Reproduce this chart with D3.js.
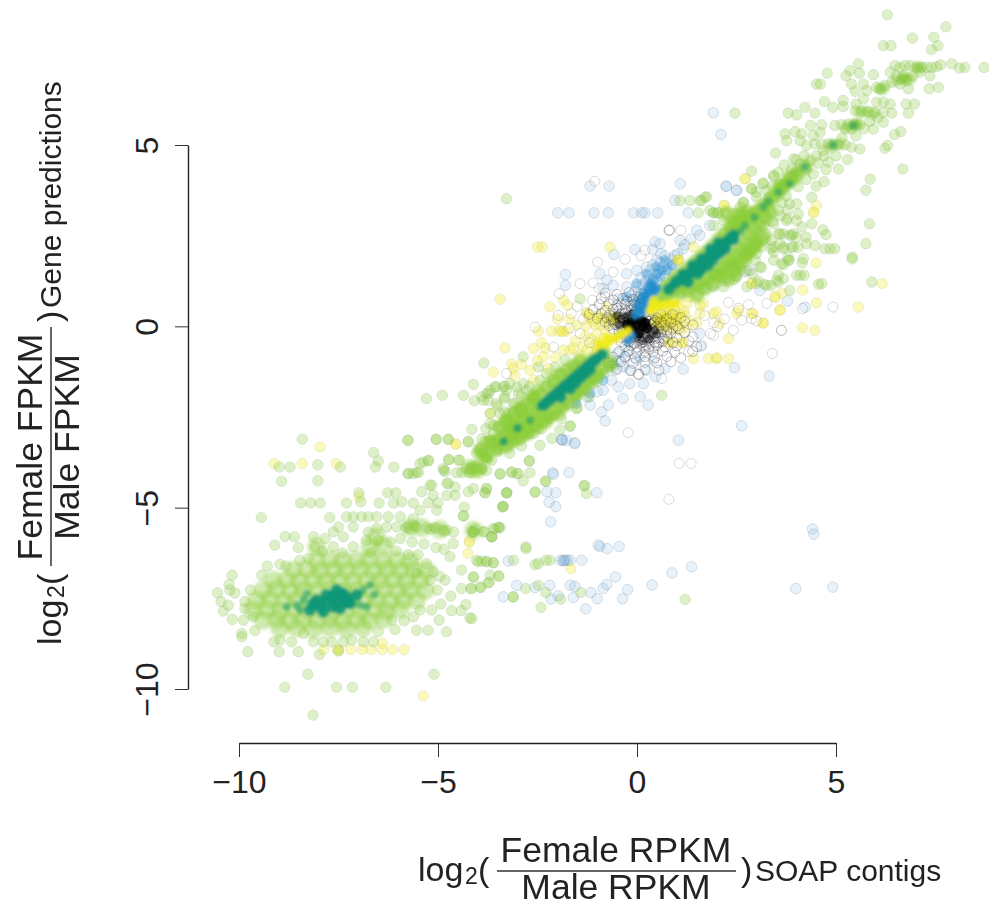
<!DOCTYPE html>
<html>
<head>
<meta charset="utf-8">
<script src="https://cdn.jsdelivr.net/npm/d3@7"></script>
<style>
body { margin: 0; background: #fff; }
text { font-family: "Liberation Sans", Arial, sans-serif; fill: #222; }
</style>
</head>
<body>
<script>
// tick labels of both axes
const xTicks = [-10, -5, 0, 5];
const yTicks = [-10, -5, 0, 5];

// rings with no fill away from the origin
const hollowFar = [
[-1.06,4],[1.1,2.65],[.81,2.65],[.82,2.66],[.8,2.64],[-.99,1.77],[-1.43,1.18],[-1.95,.9],[-1.12,.72],[-.8,.81],[-1.98,.3],[-2.56,-.02],[-2.1,-.57],[-1.43,-.2],[-3.28,-1.3],[3.4,-.75],[3.63,-.11],[-.22,-2.93],[1.06,-3.78],[1.36,-3.78],[.04,-1.32],[.05,-1.33],[.03,-1.31],[.62,-1.44],[4.92,.53],[4.16,.49],[3.63,-.11],[3.26,.63],[2.88,.21],[2.63,.17],[2.42,-.11],[1.92,-.25],[.8,-4.77],
[1.93,.1],[2.03,0],[1.85,-.2],[2.2,.2],[2.55,.5],[2.8,.6],[3.0,.15],[2.3,.66],[1.6,-.55],[1.3,-.7],[1.7,.3],[-1.65,.35],[-1.5,.55],[-1.35,.2],[-1.7,-.05],[-1.2,-.45],[-1.0,-.65],[-.95,1.05],[-.6,1.5],[-.3,1.85],[.1,1.95],[.2,2.1],[-1.1,1.2]
];

// rings with no fill close to the origin
const hollowNear = [
[-.8,.92],[-.5,.88],[-.2,.93],[.1,.9],[-.9,.76],[-.6,.73],[-.35,.77],[-.1,.74],[.15,.76],[.3,.72],
[-.95,.6],[-.7,.62],[-.5,.58],[-.3,.61],[-.1,.59],[.08,.62],[.2,.58],[-1.1,.46],[-.8,.44],[-.6,.47],[-.45,.43],[-.3,.46],[-.15,.44],[0,.47],[.15,.43],
[-1.2,.33],[-.9,.35],[-.7,.31],[-.55,.34],[-.42,.32],[-.3,.35],[-.2,.31],[-.08,.34],[.05,.32],[.18,.35],[.3,.31],[.6,.34],[.9,.32],
[-1,.22],[-.75,.24],[-.6,.2],[-.45,.23],[-.33,.21],[-.22,.24],[-.12,.2],[0,.23],[.1,.21],[.22,.24],[.35,.2],[.5,.23],[.75,.21],[1.1,.24],
[-.8,.12],[-.6,.14],[-.45,.1],[-.32,.13],[-.2,.11],[-.1,.14],[0,.1],[.1,.13],[.2,.11],[.3,.14],[.42,.1],[.6,.13],[.85,.11],[1.2,.14],
[-.7,.02],[-.5,.04],[-.35,0],[-.22,.03],[-.12,.01],[-.03,.04],[.06,0],[.15,.03],[.25,.01],[.35,.04],[.5,0],[.7,.03],[1,.01],[1.4,.04],
[-.6,-.08],[-.4,-.06],[-.25,-.1],[-.15,-.07],[-.05,-.09],[.05,-.06],[.15,-.1],[.25,-.07],[.38,-.09],[.55,-.06],[.75,-.1],[1.05,-.07],
[-.45,-.18],[-.3,-.16],[-.2,-.2],[-.1,-.17],[0,-.19],[.1,-.16],[.2,-.2],[.3,-.17],[.45,-.19],[.6,-.16],[.85,-.2],[1.2,-.17],
[-.4,-.3],[-.28,-.28],[-.15,-.32],[-.05,-.29],[.05,-.31],[.15,-.28],[.28,-.32],[.4,-.29],[.55,-.31],[.75,-.28],[1,-.32],[1.4,-.29],
[-.4,-.42],[-.25,-.4],[-.1,-.44],[.02,-.41],[.15,-.43],[.3,-.4],[.45,-.44],[.65,-.41],[.9,-.43],[1.3,-.4],
[-.3,-.55],[-.15,-.53],[0,-.57],[.15,-.54],[.3,-.56],[.5,-.53],[.7,-.57],[1,-.54],[1.5,-.56],
[-.45,-.7],[-.2,-.68],[0,-.72],[.2,-.69],[.4,-.71],[.65,-.68],[.95,-.72],[1.4,-.69],
[-.6,-.85],[-.3,-.83],[-.05,-.87],[.2,-.84],[.45,-.86],[.75,-.83],[1.1,-.87],[-.7,-1],[-.4,-.98],[-.1,-1.02],[.2,-.99],[.5,-1.01],[.85,-.98],[-.9,-1.2],[-.5,-1.18],[-.15,-1.22],[.2,-1.19],[.55,-1.21],
[-.5,.5],[-.4,.6],[-.25,.7],[-.15,.55],[-.05,.65],[.05,.8],[-.35,.25],[-.27,.4],[-.16,.3],[-.03,.42],[.1,.5],[.25,.4],
[.12,-.45],[.22,-.52],[.3,-.62],[.42,-.55],[.55,-.45],[.68,-.35],[.35,-.25],[.48,-.33],[.6,-.22],[.75,-.15],[.9,-.05],[.4,-.15],
[.1,-.25],[.2,-.3],[.08,-.38],[-.06,-.48],[-.2,-.42],[-.33,-.22],[-.45,-.12],[-.55,.05],[-.65,.18],[-.42,.17],[-.28,.08],[-.18,.18],[-.08,.08],[.02,.16],[.13,.07],[.22,.18],[.33,.06],[.45,.16],[.28,-.13],[.18,-.06],[.08,-.14],[-.02,-.05],[-.12,-.13],[-.22,-.03],[-.35,-.12]
];

// pale blue discs
const bluePoints = [
[-1.18,3.87],[-.7,3.87],[1.09,3.93],[2.24,3.87],[2.5,3.75],[-1.99,3.13],[-1.71,3.13],[-1.08,3.13],[-.72,3.13],[-.09,3.13],[.12,3.13],[.2,3.13],[.52,3.13],[.95,3.47],[1.29,3.13],[1.5,2.65],[1.58,2.51],[1.83,2.78],[.45,2.33],[.58,2.28],[.39,2.12],[-.05,2.12],[-.58,1.98],[1.08,2.37],[1.16,2.14],[-1.8,1.43],[-1.8,1.13],[-.93,1.45],[-.76,1.27],[-.85,1.04],[-.6,1.13],[-.26,1.45],[0,1.54],[.24,1.64],[.49,1.82],[.75,1.73],[.24,1.27],[.49,1.45],[0,1.09],[-.26,1.09],[-.47,.76],
[-.64,-.93],[-.35,-1.12],[-.01,-.93],[.24,-1.21],[.47,-1.39],[.7,-1.16],[1.16,-1.18],[2.45,-1.14],[3.32,-1.37],[2.63,-2.74],[1.04,-3.14],[-.8,-2.61],[-1.57,-3.23],[-1.9,-3.12],[.28,-2.17],[.08,-1.94],[-.35,-1.99],[-.72,-2.17],[-.89,-2.36],[-1.18,-2.17],[-.47,-1.67],[-.18,-1.58],[.16,-1.58],[-.85,-1.76],[-.64,-1.49],[-.18,-1.21],[.08,-.84],[.41,-.93],[1.62,-.52],[1.58,-.2],
[1.92,5.89],[2.11,5.29],[2.24,3.86],[2.5,3.75],[3.78,.7],[4.22,.53],[3.09,.99],[2.84,1.54],
[-1.89,-3.12],[-1.87,-3.14],[-1.56,-3.21],[-1.77,-3.14],[-2.12,-4.04],[-2.1,-4.08],[-1.71,-4.03],[-2.26,-4.56],[-2.04,-4.59],[-2.21,-4.85],[-2.04,-4.97],[-2.17,-5.39],[-1.01,-4.59],[-.97,-6.03],[-.93,-6.07],[-.75,-6.13],[-.45,-6.07],[-3.23,-6.47],[-1.85,-6.45],[-1.75,-6.45],[-1.8,-6.45],[-1.85,-6.47],[-1.68,-6.45],[-1.39,-6.45],[-1.93,-6.45],[-3.02,-7.14],[-3.36,-7.46],[-2.56,-7.2],[-2.19,-7.14],[-1.68,-7.14],[-1.56,-7.17],[-1.98,-7.43],[-2.16,-7.52],[-1.6,-7.48],[-1.16,-7.34],[-1,-7.51],[-1.29,-7.79],[-.85,-7.23],[-.76,-7.12],[-.54,-6.91],[-.24,-7.26],[-.36,-7.51],[.38,-7.13],[.88,-6.8],[1.37,-6.63],[3.99,-7.23],[4.92,-7.19],[4.41,-5.59],[4.44,-5.73],
[.2,.95],[.35,1.05],[.42,1.3],[.3,1.4],[.55,1.55],[.65,1.65],[.7,1.4],[.85,1.85],[.95,1.95],[.6,2.0],[.4,1.7],[.15,1.15],[.1,1.35],[-.05,.95],[-.15,.85],[.05,.75],[.25,.82],[.5,1.25],[.35,1.55],[.58,1.75],[.78,1.55],[.92,1.7],[1.02,2.0],[1.2,2.25],[1.35,2.4],[.7,1.95],[.28,1.1],[.18,.8],[.05,.6],[-.08,.6],
[1.3,.95],[1.6,1.05],[1.9,1.1],[2.2,1.25],[2.5,1.4],[2.7,1.5],
[-.5,-.75],[-.45,-.95],[-.3,-.85],[-.7,-1.1],[-.85,-1.3],[-1.05,-1.45],[-1.2,-1.6],[-1.35,-1.75],[-1.55,-1.95],[-1.6,-2.1],[-.55,-1.2],[-.25,-.7],[-1.0,-1.8],[-1.25,-1.95]
];

// blue that has piled up beside the upper band
const blueMid = [
[-.01,.63],[.16,.9],[.28,1.09],[.41,1.27],[.58,1.36],[.75,1.55],[.24,1.45],[.49,1.64],[-.01,1.18],[-.26,.81],[.7,1.82],[.87,1.68],[.1,.75],[.35,1.2],[.5,1.45],[.62,1.55],
[-.6,-1.03],[-.85,-1.49],[-1.18,-1.85],[-1.52,-2.13]
];

// pale yellow discs
const yellowPoints = [
[-7.96,-3.32],[-9.12,-3.78],[-8.41,-3.78],[-7.56,-3.78],[-6.98,-4.7],[-4.56,-3.24],[-4.55,-3.25],[-4.21,-5.92],[-7.88,-8.91],[-7.5,-8.93],[-7.52,-8.9],[-7.19,-8.91],[-6.9,-8.91],[-6.68,-8.91],[-6.4,-8.91],[-6.14,-8.91],[-5.85,-8.91],[-6.4,-8.74],[-5.37,-10.19],[-4.21,-5.95],[-4.25,-6.26],[-1.66,-6.68],
[2.73,4.07],[2.19,3.33],[4.43,3.15],[4.44,3.13],[4.51,3.33],[6.16,1.18],[5.56,.53],[4.47,-.11],[4.16,-.04],[4.51,.65],[3.59,.46],[4.16,1],[3.17,.09],[4.5,1.75],[2.88,1.18],[3.47,.81],[3.64,.92],[2.55,.44],[1.92,.35],[1.58,.58],[2.92,.35],
[-2.5,2.19],[-2.38,2.19],[-.68,2.19],[-3.44,.75],[-2.19,.54],[-1.85,.72],[-1.75,.58],[-1.27,.38],[-1.25,.36],[-1.98,-.13],[-1.77,-.13],[-1.9,-.13],[-2.15,-.13],[-1.85,-.15],[-2.48,-.13],[-3.32,-.59],[-2.4,-.45],[-2.6,-.61],[-3.61,-1.26],[-3.69,-2.4],[-3.15,-1.03],[-3.11,-1.16],[-3.07,-1.35],[-2.69,-1.21],[-2.35,-.84],[-2.23,-1.16],[-2.6,-1.49],[-1.68,-.66],[-1.43,-.8],[-1.52,.03],[-1.27,.03],[-1.01,-.2],[-.76,.54],[-.51,.26],[-.53,.24],
[.79,-.45],[.81,-.43],[.96,-.45],[1.16,-.45],[1.14,-.45],[1.42,-.89],[1.79,-.89],[1.99,-.89],[2.01,-.87],[2.3,-.89],[1.04,1.82],[1.06,1.82],[1.02,1.84],[1.42,2.19],[2.19,3.34],[2.71,4.07],
[.45,.17],[.62,.26],[.79,.12],[.96,-.02],[.49,.03],[1.25,-.02],[1.08,.35],[1.5,.08],[.83,.54],[1.25,.63],[2,.4],[2.08,.08],[2.5,.35],[2.88,.35],[3.17,.09],[3.59,.44],[3.47,.81],[2.88,1.18],[1.58,.35],[2.3,-.34],[1.33,.81],[1.67,.63],
[.55,.1],[.7,.2],[.9,.22],[.6,.02],[.75,.0],[1.0,.15],[.85,.35],[1.2,.3],[1.35,.15],[1.1,.08],[.5,.24],[.66,.35],[-.9,.05],[-.75,.2],[-.6,.12],[-1.1,.15],[-.85,-.35],[-1.15,-.35],[-1.35,-.55],[-1.55,-.4],[-1.85,-.65],[-2.05,-.85],
[-2.3,-.6],[-2.5,-.95],[-2.9,-1.05],[-2.0,.2],[-1.7,.2],[-.95,.3],
[.42,.08],[.58,.18],[.72,.28],[.88,.1],[.68,.1],[.82,.25],[.98,.3],[1.05,.22],[.55,.32],[.95,.45],[1.18,.42],[.72,.42],[.62,-.06],[.85,-.1],[1.1,-.12],
[-.55,.2],[-.7,.08],[-.65,.28],[-.85,.22],[-1,.28],[-1.2,.25],[-1.05,.05],[-.8,-.1],[-1.3,-.25],[-1.05,-.5],[-1.25,-.65],[-1.6,-.6]
];

// pale green discs
const greenPoints = [
// far lower left
[-8.41,-3.11],[-6.62,-3.48],[-5.75,-3.14],[-5.04,-3.12],[-4.74,-3.12],[-4.24,-3.19],[-8.99,-3.88],[-8.72,-3.88],[-8.02,-3.82],[-7.45,-3.88],[-6.5,-3.71],[-6.57,-3.88],[-6.11,-3.88],[-5.24,-3.71],[-5.45,-3.78],[-4.74,-3.67],[-4.45,-3.69],[-4.85,-3.97],[-5.75,-4.06],[-5.54,-4.03],[-4.4,-4.03],[-4.2,-4.03],[-4.2,-3.92],[-4.07,-3.92],[-3.9,-3.92],[-3.78,-3.97],[-3.44,-4.06],[-3.15,-4.03],[-3.02,-4.06],[-8.93,-4.27],[-8.02,-4.26],
[-5.16,-4.38],[-4.78,-4.33],[-4.57,-4.43],[-4.11,-4.47],[-3.78,-4.47],[-3.82,-4.59],[-3.28,-4.59],[-3.38,-4.98],[-6.99,-4.59],[-6.27,-4.59],[-6.06,-4.59],[-8.45,-4.87],[-8.2,-4.87],[-7.96,-4.87],[-7.3,-4.87],[-6.94,-4.84],[-6.48,-4.87],[-6.12,-4.87],[-5.91,-4.84],[-5.62,-4.87],[-5.41,-4.56],[-5.24,-4.87],[-5.12,-4.66],[-5,-4.87],[-4.78,-4.66],[-4.57,-4.66],[-4.34,-4.98],[-4.36,-5.23],[-5.45,-5.07],[-5.03,-5.07],
[-9.44,-5.27],[-7.72,-5.27],[-7.3,-5.25],[-7.13,-5.25],[-6.92,-5.25],[-6.75,-5.25],[-6.54,-5.25],[-6.25,-5.25],[-5.95,-5.25],[-5.62,-5.3],[-7.5,-5.53],[-7.63,-5.67],[-7.13,-5.53],[-6.75,-5.67],[-6.54,-5.57],[-6.29,-5.53],[-6.04,-5.53],[-5.75,-5.51],[-5.54,-5.53],[-5.28,-5.55],[-5.03,-5.57],[-4.78,-5.62],[-4.61,-5.67],[-4.11,-5.67],[-3.86,-5.67],[-3.61,-5.57],[-3.44,-5.55],[-3.65,-5.8],[-5.8,-5.55],[-5.7,-5.58],[-5.6,-5.5],[-5.2,-5.6],[-5.1,-5.55],[-4.9,-5.6],[-4.85,-5.65],[-4.15,-5.65],
[-10.54,-7.35],[-10.45,-7.59],[-10.39,-7.85],[-10.27,-7.69],[-10.17,-8.08],[-10.23,-7.27],[-10.25,-7.11],[-10.17,-6.86],[-10.1,-7.35],[-9.93,-8.47],[-9.93,-8.56],[-9.89,-8.1],[-9.85,-7.59],[-9.85,-7.78],[-9.71,-7.27],[-9.6,-8.39],[-9.64,-8.01],[-9.43,-6.86],[-9.29,-6.61],[-9.1,-6.03],[-8.84,-5.79],[-8.61,-5.8],[-8.51,-6.1],[-8.13,-5.8],[-8.09,-6.08],[-7.84,-5.85],[-7.63,-6.08],[-7.38,-5.8],[-7.13,-6.08],[-8.47,-6.45],[-8.26,-6.4],[-8.97,-6.56],[-8.82,-6.61],[-9.12,-8.7],[-8.97,-8.65],[-8.68,-8.7],[-8.38,-8.47],[-8.13,-8.7],[-7.88,-8.7],[-7.67,-8.7],[-7.38,-8.7],[-7.17,-8.65],[-6.88,-8.7],[-6.62,-8.7],[-6.5,-8.42],[-6.08,-8.36],[-5.85,-8.12],[-6.16,-8.1],[-5.62,-8.01],
[-9.78,-8.97],[-8.99,-8.97],[-8.51,-8.97],[-7.98,-9.05],[-7.5,-8.95],[-8.27,-9.59],[-5.1,-9.59],[-8.85,-9.95],[-7.55,-9.95],[-7.15,-9.95],[-6.31,-9.95],[-8.14,-10.72],[-5.54,-8.38],[-5.25,-8.38],[-4.79,-8.42],[-4.2,-8.04],[-4.66,-7.84],[-4.42,-7.84],[-4.3,-7.67],[-4.97,-8.1],[-4.93,-7.66],[-5.16,-7.82],[-5.45,-7.82],
[-3.11,-7.46],[-3.71,-7.06],[-3.48,-6.88],[-3.92,-7.2],[-4.18,-7.23],[-4.41,-7.23],[-4.68,-7.44],[-5.02,-7.27],[-4.11,-6.91],[-3.99,-6.49],[-3.78,-6.49],[-3.61,-6.52],[-4.7,-6.35],[-4.41,-6.72],[-4.82,-7],[-5.12,-6.77],[-5.54,-6.81],[-4.95,-6.9],[-5.29,-6.54],[-5.2,-7],
[-6.8,-5.9],[-6.5,-5.9],[-6.2,-5.95],[-5.95,-5.85],[-5.65,-5.95],[-5.35,-6],[-5.05,-6.1],[-4.85,-6.15],[-6.05,-6.2],[-5.75,-6.3],[-5.5,-6.3],[-6.7,-6.25],[-7.9,-6.2],[-7.4,-6.25],
// middle of the lower band
[-3.33,-1.99],[-4.89,-1.9],[-4.36,-1.9],[-4.11,-1.6],[-4.09,-2.05],[-3.73,-1.85],[-3.9,-1.94],[-3.54,-1.67],[-3.32,-1.65],[-3.69,-2.4],[-3.32,-2.36],[-3.07,-2.13],[-1.68,-2.75],[-5.76,-3.14],[-5.05,-3.11],[-4.74,-3.11],[-4.24,-3.17],[-4.15,-2.84],[-3.8,-2.82],[-3.61,-2.73],[-3.69,-3.14],[-5.29,-1.99],
[-4.28,-3.92],[-4.15,-3.9],[-4.03,-3.92],[-3.9,-3.94],[-4.49,-3.69],[-4.72,-3.67],[-5.24,-3.69],[-5.37,-3.74],[-4.87,-3.92],[-4.82,-4],[-4.53,-4.04],[-5.75,-4.06],[-5.49,-4.03],[-5.62,-4.06],[-4.03,-3.5],[-3.78,-3.6],[-3.65,-3.69],[-3.94,-3.37],[-2.7,-3.71],[-3.44,-4.08],[-3.15,-4.01],[-2.98,-4.06],[-2.69,-4.04],[-2.86,-4.26],[-2.3,-4.27],[-2.56,-4.56],[-3.27,-4.59],[-3.78,-4.47],[-3.36,-4.96],[-1.32,-4.38],[-1.27,-4.61],[-4.36,-5.22],[-3.48,-5.54],[-3.65,-5.8],[-4.11,-5.66],[-4.62,-5.99],[-2.79,-6.08],[-5.2,-4.38],[-4.74,-4.33],[-4.24,-4.56],
[-1.33,-4.4],[-2.29,-4.27],[-2.56,-4.58],[-3.27,-4.59],[-3.37,-4.97],[-3.82,-4.59],[-2.79,-6.13],[-3.47,-5.55],[-3.57,-5.59],[-3.65,-5.81],[-3.84,-5.65],[-4.07,-5.58],[-4.11,-5.67],[-3.1,-6.45],[-2.48,-6.54],[-2.56,-6.57],[-2.19,-6.45],[-2.29,-6.45],[-3.78,-6.48],[-4.03,-6.45],[-3.9,-6.47],[-3.61,-6.52],[-4.11,-6.91],[-3.47,-6.89],[-3.69,-6.86],[-3.74,-7.07],[-3.94,-7.19],[-4.15,-7.23],[-3.11,-7.46],[-2.8,-7.23],[-2.48,-7.14],[-2.29,-7.34],[-1.92,-7.52],[-1.41,-7.34],[-2.41,-7.75],[1.21,-7.53],[-4.15,-8.06],
[-3.28,3.52],[-1.43,.76],[-2.86,-.84],[-3.85,-1.01],[.62,-1.9],[-1.68,-2.75],[-2.71,-3.71],[-3.57,-1.67],[-3.36,-1.67],[-3.78,-1.85],[-3.74,-2.04],[-3.28,-1.76],[-3.02,-1.67],[-2.9,-1.9],[-2.7,-1.65],[-2.5,-1.75],[-3.5,-2.2],[-3.1,-2.35],[-2.9,-2.2],[-2.6,-2.95],[-2.3,-2.6],[-2.1,-2.45],[-1.9,-2.55],[-1.5,-2.25],[-1.2,-1.95],[-1,-1.5],[-.7,-1],[-3.9,-3.1],[-3.2,-3.5],[-2.9,-3.3],[-3.5,-3.45],
[-3.86,-2.04],[-3.69,-1.76],[-3.53,-2.13],[-3.32,-1.94],[-3.11,-2.13],[-3.19,-1.58],[-2.98,-1.85],[-2.77,-1.76],[-2.56,-1.94],[-3.44,-2.4],[-3.23,-2.4],[-2.9,-2.31],[-2.65,-2.13],[-3.69,-2.68],[-3.48,-2.77],[-3.32,-2.59],[-3.07,-2.54],[-2.86,-2.95],[-2.6,-2.77],[-2.4,-2.82],[-2.23,-2.54],[-1.94,-2.45],[-1.77,-2.13],[-1.52,-2.27],[-2.44,-3.28],[-2.14,-3.09],[-1.94,-2.86],[-3.82,-3.18],[-3.61,-2.95],[-3.78,-3.6],[-3.53,-3.41],[-3.15,-3.05],[-2.94,-3.14],[-2.69,-2.95],
[-2.48,-1.12],[-2.27,-1.3],[-2.44,-1.49],[-2.06,-1.12],[-1.89,-1.3],[-1.81,-.93],[-1.56,-1.07],[-2.15,-1.58],[-2.86,-1.58],[-1.1,-1.58],[-.93,-1.39],[-1.27,-1.76],[-1.52,-1.94],[-.6,-1.12],[-1.85,-2.04],
// upper band and the top
[1.75,3.57],[1.62,3.47],[1.33,3.47],[1.08,3.47],[1.54,3.13],[1.92,3.13],[2.02,3.13],[2.67,3.41],[2.88,3.8],[3.17,3.93],[3.43,4.16],[4.01,3.38],[3.83,3.38],
[6.29,8.59],[7.76,8.26],[6.92,7.95],[7.46,7.97],[7.56,7.74],[7.4,7.63],[6.19,7.74],[6.38,7.74],[8.72,7.14],[8.24,7.14],[8.1,7.12],[7.91,7.24],[7.63,7.21],[5.56,7.24],[4.78,6.98],[5.35,7.05],[5.59,6.98],[5.25,6.91],[5.94,6.94],[4.51,6.68],[4.61,6.68],
[6.48,7.19],[6.61,7.14],[6.73,7.19],[6.86,7.19],[7.03,7.14],[7.15,7.14],[7.28,7.14],[7.4,7.14],[7.53,7.16],[6.36,7.01],[6.52,6.91],[6.65,6.82],[6.78,6.78],[6.94,6.91],[7.11,7.01],[7.36,6.91],[7.34,6.55],[7.57,6.59],[6.11,6.55],[6.23,6.64],[6.4,6.73],[6.61,6.68],[6.82,6.55],[6.69,6.91],[6.02,6.59],[5.69,6.68],[5.39,6.68],[5.48,6.48],[5.77,6.5],[5.69,6.27],[5.18,6.23],[4.71,6.2],[4.92,6.04],[5.18,6.06],[5.5,6.13],[6.02,6.18],[6.19,6.18],[6.36,6.13],[6.76,6.13],[6.97,6.13],[6.82,5.88],
[5.48,5.95],[5.65,5.93],[5.81,5.92],[5.98,5.9],[6.19,5.9],[6.4,5.88],[4.22,6.04],[3.8,5.88],[4.01,5.83],[4.47,5.88],[4.36,5.54],[4.64,5.56],[4.97,5.54],[5.14,5.56],[5.31,5.58],[5.45,5.56],[5.6,5.56],[5.39,5.44],[5.23,5.44],[5.94,5.44],[6.19,5.63],[6.63,5.37],[6.47,5.29],[6.3,4.99],[6.23,4.91],[6.68,4.34],[5.86,4.06],[5.75,3.75],[5.84,2.83],[5.75,2.28],[5.41,1.91],
[3.97,5.37],[3.72,5.31],[3.76,5.12],[4.14,5.31],[4.1,5.12],[4.6,5.35],[4.43,5.26],[4.26,4.99],[4.47,5.03],[4.64,5.03],[4.81,5.03],[4.93,5.01],[5.06,5.01],[5.23,5.01],[5.39,4.94],[5.6,4.89],[4.68,4.85],[4.51,4.71],[4.81,4.53],[5.06,4.34],[4.75,4.32],[5.29,4.6],
[3.48,4.78],[3.93,4.62],[4.1,4.48],[4.26,4.34],[4.43,4.2],[4.01,4.2],[3.89,4.34],[2.88,4.28],[3.44,4.14],[4.7,3.99],[4.5,3.87],[3.17,3.95],[2.88,3.79],[2.67,3.42],[1.71,3.56],[1.58,3.47],[1.92,3.13],[2.04,3.13],[2.46,5.88],
[4.39,3.56],[3.64,3.42],[3.78,3.2],[4.05,3.1],[3.78,2.97],[4.14,2.74],[4.39,2.83],[4.67,2.66],[4.75,2.53],[3.68,2.55],[3.84,2.51],[4.01,2.46],[4.25,2.46],[4.47,2.23],[4.26,2.28],[4.72,2.14],[4.85,2.14],[4.97,2.14],[3.38,2.14],[3.59,2.28],[3.8,1.91],[4.05,2.18],
[5.41,1.86],[5.9,1.22],[4.64,1.18],[4.56,1.16],[4.1,1.41],[4.2,1.41],[3.82,1.82],[4.18,1.87],[4.15,1.75],[3.68,1.7],[3.55,1.41],[3.37,1.13],[3.55,1.22],[3.13,1.62],[3.13,2.19],[3.37,2.37],[3.55,2.55],[3.89,2.51],[3.89,2.19],[3.43,2.05],[3.68,2.14],[2.97,1.82],[2.88,2.1],[2.67,1.87],[2.9,1.45],[3.2,1.15],[3.05,1.25],
[3.0,3.7],[3.3,3.55],[3.55,3.2],[3.2,2.8],[3.4,2.9],[3.6,3.05],[3.0,2.4],[3.25,2.55],[2.8,2.0],[2.6,1.55],[2.45,1.3],[3.0,2.0],
[2.76,1.09],[3.01,1.18],[3.26,1.13],[3.51,1.27],[3.68,1.32],[3.84,.99],[3.43,1.82],[3.8,1.82],[3.63,1.73],[3.09,1.64],[2.76,1.54],[2.5,1.36],[2.17,1.09],[3.43,2.19],[3.68,2.19],[3.93,2.19],[3.17,2.37],[3.59,2.55],[3.93,2.55],[3.76,2.92],[3.43,2.83],[4.01,2.92],[4.01,1.41],[2.92,3.11],[2.42,3.11],[2.17,2.92],[1.92,2.78],[1.83,3.2],[2.59,3.29],[3,3.57],[3.26,3.75],[3.59,3.93],
[4.0,4.6],[4.2,4.7],[3.7,4.45],[3.55,4.25],[3.4,3.85],[3.75,3.6],[4.05,3.85],[4.25,4.05],[4.55,4.5],[4.7,4.7],[5,4.7],[5.15,5.2],[5.5,5.25],[5.7,5.45],[5.85,5.65],[6.05,5.75]
];

// the lower left blob, where the discs have piled up
const blobPoints = [
[-8.05,-6.08],[-7.4,-6.45],[-7.71,-6.43],[-8.05,-6.47],[-7.04,-6.45],[-6.71,-6.43],[-6.37,-6.47],[-6.04,-6.45],[-5.7,-6.48],[-6.71,-6.08],[-6.37,-6.05],[-6.55,-5.8],
[-8.63,-6.72],[-8.3,-6.7],[-7.96,-6.74],[-7.63,-6.71],[-7.3,-6.73],[-6.96,-6.7],[-6.62,-6.74],[-6.29,-6.71],[-5.95,-6.73],[-5.62,-6.7],[-5.28,-6.74],
[-9.14,-7],[-8.8,-6.98],[-8.47,-7.02],[-8.13,-6.99],[-7.8,-7.01],[-7.46,-6.98],[-7.13,-7.02],[-6.79,-6.99],[-6.46,-7.01],[-6.12,-6.98],[-5.79,-7.02],[-5.45,-6.99],
[-9.39,-7.27],[-9.05,-7.25],[-8.72,-7.29],[-8.38,-7.26],[-8.05,-7.28],[-7.71,-7.25],[-7.38,-7.29],[-7.04,-7.26],[-6.71,-7.28],[-6.37,-7.25],[-6.04,-7.29],[-5.7,-7.26],[-5.32,-7.28],
[-9.56,-7.55],[-9.22,-7.53],[-8.88,-7.57],[-8.55,-7.54],[-8.22,-7.56],[-7.88,-7.53],[-7.55,-7.57],[-7.21,-7.54],[-6.88,-7.56],[-6.54,-7.53],[-6.21,-7.57],[-5.87,-7.54],[-5.54,-7.56],
[-9.64,-7.82],[-9.3,-7.8],[-8.97,-7.84],[-8.63,-7.81],[-8.3,-7.83],[-7.96,-7.8],[-7.63,-7.84],[-7.3,-7.81],[-6.96,-7.83],[-6.62,-7.8],[-6.29,-7.84],[-5.95,-7.81],
[-9.39,-8.1],[-9.05,-8.08],[-8.72,-8.12],[-8.38,-8.09],[-8.05,-8.11],[-7.71,-8.08],[-7.38,-8.12],[-7.04,-8.09],[-6.71,-8.11],[-6.37,-8.08],
[-8.97,-8.33],[-8.55,-8.31],[-8.13,-8.35],[-7.71,-8.32],[-7.3,-8.34],[-6.88,-8.31],
[-5.7,-5.55],[-5.4,-5.55],[-4.95,-5.6],[-4.07,-3.93],[-4.0,-3.93],[-4.2,-3.92],[-4.1,-5.62]
];

// saturated green along the two bands
const limePoints = [
[-.85,-.7],[-1.1,-.93],[-1.35,-1.15],[-1.6,-1.39],[-1.85,-1.67],[-2.1,-1.94],[-2.35,-2.22],[-2.6,-2.45],[-2.86,-2.63],[-3.11,-2.82],[-3.36,-3.05],[-3.61,-3.23],[-3.86,-3.51],
[-.68,-1.02],[-1.01,-1.3],[-1.2,-1.5],[-1.43,-1.75],[-1.6,-1.9],[-1.77,-2.12],[-2.05,-2.35],[-2.3,-2.62],[-2.75,-2.95],[-3.05,-3.1],[-3.3,-3.3],
[-1.43,-.95],[-1.77,-1.21],[-2.1,-1.49],[-2.44,-1.85],[-2.77,-2.13],[-3.11,-2.45],[-3.44,-2.77],
[-3.69,-3.18],[-3.1,-2.95],[-2.77,-2.82],[-3.94,-3.41],[-3.78,-3.6],[-2.6,-1.95],[-2.9,-2.3],[-3.25,-2.65],[-2.5,-2.65],
[-1.22,-1.04],[-1.47,-1.27],[-1.72,-1.53],[-1.97,-1.8],[-2.22,-2.08],[-2.47,-2.33],[-2.73,-2.54],[-2.98,-2.72],[-3.23,-2.93],[-3.48,-3.14],[-1.6,-1.1],[-1.95,-1.35],[-2.27,-1.67],[-2.6,-2],[-2.94,-2.3],[-3.27,-2.6],[-.85,-1.16],[-1.1,-1.4],[-1.32,-1.62],[-1.52,-1.82],[-1.9,-2.24],[-2.18,-2.48],[-2.52,-2.78],[-2.9,-3.02],[-3.18,-3.2],[-3.5,-3.35],
[.49,.63],[.75,.86],[1,1.09],[1.25,1.32],[1.5,1.59],[1.75,1.82],[2,2.1],[2.25,2.33],[2.5,2.65],[2.75,2.92],[3,3.15],[3.26,3.38],[3.51,3.66],[3.76,3.93],[4.01,4.16],[4.22,4.39],
[1.08,.92],[1.41,1.12],[1.75,1.32],[2.09,1.58],[2.34,1.82],[2.59,2.14],[2.84,2.51],[3.09,2.83],[3.34,3.15],
[.7,1.05],[1,1.35],[1.3,1.6],[1.6,1.9],[1.9,2.2],[2.2,2.55],[2.5,2.9],
[3.17,2.46],[2.76,2],[2.42,1.64],[1.92,1.18],[1.5,.86],[2.25,3.11],[2.59,3.11],[2.42,2.83],[2.75,3.15],[3.59,3.84],[3.84,4.12],[2,1.4],[2.3,1.3],[2.55,1.7],[2.85,2.1],[3,2.3],
[.62,.75],[.88,.98],[1.12,1.2],[1.38,1.45],[1.62,1.7],[1.88,1.96],[2.12,2.2],[2.38,2.5],[2.62,2.78],[2.88,3.03],[3.13,3.27],[3.38,3.52],[3.63,3.8],[3.88,4.05],[1.25,1.02],[1.58,1.22],[1.92,1.45],[2.22,1.7],[2.46,1.98],[2.72,2.32],[2.96,2.67],[3.22,3],[.85,1.2],[1.15,1.47],[1.45,1.75],[1.75,2.05],[2.05,2.38],[2.35,2.72],[2.65,3.02],[1.7,1.05],[2.15,1.4],[2.45,1.5],[2.7,1.85],[2.95,2.2]
];

// green spots further out along the upper band, not as solid
const limeSpots = [
[4.01,4.3],[3.68,3.93],[4.35,4.57],[4.85,4.94],[5.1,5.03],[5.27,5.49],[5.52,5.58],[6.52,6.78],[6.86,6.82],[7.03,7.14],[6.19,6.55],[5.94,5.86],[5.6,5.9],
[4.93,5.01],[5.44,5.54],[5.5,5.56],[6.69,6.82],[6.75,6.85],[7.11,7.14],[6.11,6.55],[5.75,5.92]
];

// bright yellow tails next to the origin
const yellowCore = [
[-.22,-.11],[-.32,-.18],[-.43,-.25],[-.54,-.32],[-.64,-.38],[-.76,-.47],[-.89,-.57],[-1.01,-.68],[-.75,-.3],[-.95,-.45],
[.33,.44],[.42,.5],[.49,.54],[.62,.58],[.75,.6],[.88,.62],[1,.62],[.42,.72],[.38,.6]
];

// saturated blue next to the origin
const blueCore = [
[.07,.35],[.13,.45],[.2,.54],[.26,.65],[.33,.76],[.39,.88],[.45,.99],[.5,1.06],[.02,.5],[.12,.7],[.18,.85],[.28,.98],[.36,1.15],[-.05,.3],[-.12,-.25],[-.22,-.4]
];

// teal centre of the bands
const tealPoints = [
[.95,1.18],[1.08,1.27],[1.2,1.36],[1.32,1.48],[1.41,1.55],[1.55,1.66],[1.75,1.87],[1.9,2.01],[2.09,2.17],[2.25,2.33],[2.42,2.51],
[.8,1.02],[1.15,1.42],[1.4,1.68],[1.62,1.85],[1.85,2.12],[2.05,2.3],[1.28,1.22],[1.52,1.45],[1.78,1.68],[2.02,1.98],[2.22,2.15],[2.42,2.4],
[1,1.25],[1.14,1.32],[1.26,1.42],[1.48,1.6],[1.65,1.76],[1.82,1.94],[2,2.09],[2.17,2.25],[2.34,2.42],[1.6,1.55],[1.9,1.83],[2.12,2.07],
[-2.35,-2.17],[-2.18,-2.01],[-2.02,-1.85],[-1.85,-1.69],[-1.68,-1.53],[-1.52,-1.37],[-1.35,-1.21],[-1.18,-1.05],[-1.01,-.89],[-.88,-.78],
[-1.92,-1.95],[-1.68,-1.72],[-1.42,-1.42],[-1.18,-1.2],
[-2.27,-2.09],[-2.1,-1.93],[-1.93,-1.77],[-1.77,-1.61],[-1.6,-1.45],[-1.43,-1.29],[-1.27,-1.13],[-1.1,-.97],[-1.55,-1.57],[-1.3,-1.3],
[-8.05,-7.55],[-7.8,-7.41],[-7.46,-7.41],[-7.96,-7.73],[-7.63,-7.46],[-7.55,-7.27],[-7.38,-7.37],[-7.3,-7.46],[-7.21,-7.64],[-8.22,-7.82],[-7.63,-7.73],[-7.46,-7.78],[-7.8,-7.59],[-7.88,-7.87],[-7.04,-7.41],[-7.55,-7.6],
[-8.13,-7.64],[-7.3,-7.6]
];

// teal spots that only tint the green
const tealSpots = [
[2.71,2.78],[3.17,3.29],[3.55,3.7],[3.84,3.93],[4.22,4.39],[4.93,5.01],[5.44,5.54],[-2.44,-2.22],[-2.69,-2.59],[-2.98,-2.79],[-3.02,-2.82],[-3.36,-3.18],[-3.34,-3.17],[2.6,2.62],[2.95,3.0],[3.3,3.45],
[-8.8,-7.73],[-8.55,-7.69],[-8.47,-7.82],[-8.38,-7.55],[-8.3,-7.37],[-6.88,-7.27],[-6.71,-7.14],[-6.79,-7.73],[-6.96,-7.69],[-6.6,-7.4]
];

// black centre
const blackPoints = [
[0,.05],[-.15,.1],[.15,0],[-.1,-.1],[.1,.15],[.25,-.05],[-.25,.05],[.05,-.2],[-.05,.2],[.2,.1],[-.2,-.08]
];
const darkPoints = [
[-.4,.2],[.35,-.25],[.45,-.1],[-.45,.05],[-.3,.25],[.3,-.35],[-.2,.3],[0,-.3],[.15,-.4],[-.5,.3],[.5,-.2],[-.1,.35]
];

const width = 989;
const height = 907;

const svg = d3.select("body")
	.append("svg")
	.attr("width", width)
	.attr("height", height);

// the reference is a soft scan, so the marks get a slight blur
const defs = svg.append("defs");
defs.append("filter").attr("id", "soft")
	.attr("x", "-5%").attr("y", "-5%").attr("width", "110%").attr("height", "110%")
	.append("feGaussianBlur").attr("stdDeviation", 0.6);
defs.append("filter").attr("id", "softer")
	.attr("x", "-5%").attr("y", "-5%").attr("width", "110%").attr("height", "110%")
	.append("feGaussianBlur").attr("stdDeviation", 1.5);
defs.append("filter").attr("id", "softText")
	.append("feGaussianBlur").attr("stdDeviation", 0.35);

const x = d3.scaleLinear().domain([-10, 5]).range([239, 836]);
const y = d3.scaleLinear().domain([-10, 5]).range([689, 145]);

const marks = svg.append("g").attr("filter", "url(#soft)");
const dense = svg.append("g").attr("filter", "url(#softer)");

function drawPoints(group, data, r, fill, stroke, strokeWidth) {
	group.append("g").selectAll("circle")
		.data(data)
		.join("circle")
		.attr("cx", d => x(d[0]))
		.attr("cy", d => y(d[1]))
		.attr("r", r)
		.attr("fill", fill)
		.attr("stroke", stroke)
		.attr("stroke-width", strokeWidth);
}

drawPoints(marks, bluePoints, 5.3, "rgba(70,150,210,0.13)", "rgba(60,90,120,0.17)", 1);
drawPoints(marks, blueMid, 5.3, "rgba(50,150,215,0.4)", "none", 0);
drawPoints(marks, yellowPoints, 5.3, "rgba(235,230,20,0.27)", "rgba(170,175,100,0.16)", 1);
drawPoints(marks, greenPoints, 5.3, "rgba(135,200,55,0.28)", "rgba(130,170,120,0.2)", 1);
drawPoints(marks, hollowFar, 5, "none", "rgba(20,20,30,0.17)", 0.9);
drawPoints(marks, hollowNear, 5, "none", "rgba(20,20,30,0.32)", 0.8);
drawPoints(dense, blobPoints, 9.5, "rgba(140,205,60,0.42)", "none", 0);
drawPoints(dense, limePoints, 7.5, "rgba(140,205,55,0.7)", "none", 0);
drawPoints(dense, limeSpots, 6, "rgba(130,200,55,0.45)", "none", 0);
drawPoints(dense, blueCore, 4.5, "rgba(30,140,205,0.85)", "none", 0);
drawPoints(dense, yellowCore, 4.5, "rgba(240,235,20,0.9)", "none", 0);
drawPoints(dense, tealPoints, 6, "rgba(12,150,120,0.9)", "none", 0);
drawPoints(dense, tealSpots, 4, "rgba(10,150,110,0.5)", "none", 0);
drawPoints(marks, darkPoints, 4.5, "rgba(0,0,0,0.4)", "none", 0);
drawPoints(marks, blackPoints, 5, "rgba(0,0,0,0.85)", "none", 0);

// axes, R style: the line runs from first to last tick only
const xAxis = svg.append("g")
	.attr("class", "x-axis")
	.attr("transform", "translate(0,743)")
	.call(d3.axisBottom(x).tickValues(xTicks).tickSize(14).tickSizeOuter(0).tickPadding(13)
		.tickFormat(d => String(d).replace("-", "\u2212")));

const yAxis = svg.append("g")
	.attr("class", "y-axis")
	.attr("transform", "translate(188,0)")
	.call(d3.axisLeft(y).tickValues(yTicks).tickSize(13).tickSizeOuter(0)
		.tickFormat(d => String(d).replace("-", "\u2212")));

svg.selectAll(".x-axis path, .y-axis path").attr("stroke", "#222").attr("stroke-width", 1.4);
svg.selectAll(".x-axis line, .y-axis line").attr("stroke", "#333").attr("stroke-width", 1);
xAxis.selectAll("text").attr("font-size", 32).style("font-family", '"Liberation Sans"').attr("fill", "#222");
yAxis.selectAll("text")
	.attr("font-size", 32).style("font-family", '"Liberation Sans"').attr("fill", "#222")
	.attr("text-anchor", "middle")
	.attr("dy", 0)
	.attr("x", 0).attr("y", 0)
	.attr("transform", "translate(-30,0) rotate(-90)");

// axis titles with a fraction in them
function writeTitle(g, top, bottom, tail, tailSize) {
	g.append("text").attr("x", 0).attr("y", 0).attr("font-size", 34).text("log");
	g.append("text").attr("x", 47).attr("y", 3).attr("font-size", 23).text("2");
	g.append("text").attr("x", 60).attr("y", 0).attr("font-size", 34).text("(");
	g.append("text").attr("x", 198).attr("y", -19).attr("font-size", 35.5).attr("text-anchor", "middle").text(top);
	g.append("line").attr("x1", 79).attr("x2", 318).attr("y1", -10).attr("y2", -10).attr("stroke", "#333").attr("stroke-width", 1.4);
	g.append("text").attr("x", 198).attr("y", 18).attr("font-size", 35.5).attr("text-anchor", "middle").text(bottom);
	g.append("text").attr("x", 323).attr("y", 0).attr("font-size", 34).text(")");
	g.append("text").attr("x", 337).attr("y", 0).attr("font-size", tailSize).text(tail);
}
const xTitle = svg.append("g").attr("transform", "translate(418,881)").attr("filter", "url(#softText)");
writeTitle(xTitle, "Female RPKM", "Male RPKM", "SOAP contigs", 30);

const yTitle = svg.append("g").attr("transform", "translate(61,645) rotate(-90)").attr("filter", "url(#softText)");
writeTitle(yTitle, "Female FPKM", "Male FPKM", "Gene predictions", 30);
</script>
</body>
</html>
